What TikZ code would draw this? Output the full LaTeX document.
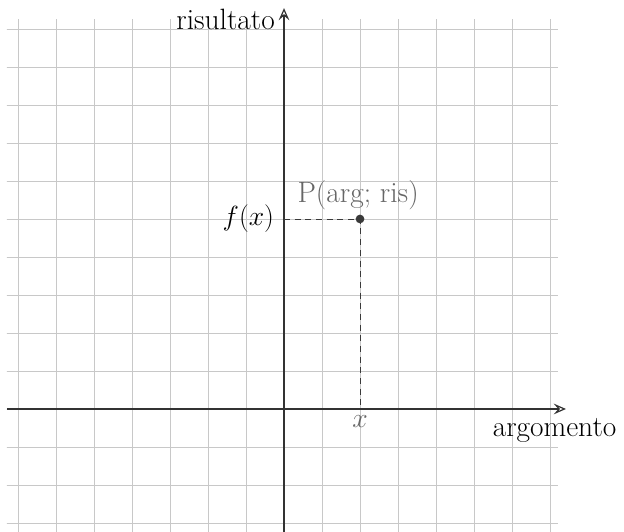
\documentclass[tikz,border=0pt]{standalone}
\usetikzlibrary{arrows.meta}
\definecolor{gridc}{HTML}{C8C8C8}
\definecolor{axisc}{HTML}{333333}
\definecolor{dashc}{HTML}{3A3A3A}
\definecolor{labc}{HTML}{666666}
\tikzset{
  gridline/.style={draw=gridc, line width=0.6pt},
  axisline/.style={draw=axisc, line width=0.9pt, -{Stealth[open, length=3.2mm, width=2.8mm, inset=1.2mm]}},
  guide/.style={draw=dashc, line width=0.7pt, dash pattern=on 4.5pt off 3.5pt},
  dot/.style={circle, fill=dashc, inner sep=0pt, minimum size=2.3mm},
  lab/.style={font=\fontsize{22}{26}\selectfont, inner sep=1pt},
}
\begin{document}
\begin{tikzpicture}
\useasboundingbox (-7.474,-3.211) rectangle (8.947,10.763);
% grid
\begin{scope}
  \clip (-7.29,-3.3) rectangle (7.21,10.24);
  \foreach \i in {-7,...,7} \draw[gridline] (\i,-3.5) -- (\i,10.5);
  \foreach \j in {-3,...,10} \draw[gridline] (-7.5,\j) -- (7.5,\j);
\end{scope}
% axes
\coordinate (xs) at (-7.29,0);
\coordinate (xe) at (7.42,0);
\coordinate (ys) at (0,-3.3);
\coordinate (ye) at (0,10.55);
\draw[axisline] (xs) -- (xe);
\draw[axisline] (ys) -- (ye);
% labels of axes
\node[lab, anchor=east] (ris) at (-0.2,10.25) {risultato};
\node[lab, anchor=north] (arg) at (7.12,-0.2) {argomento};
% point
\node[dot] (P) at (2,5) {};
\coordinate (Py) at (0,5);
\coordinate (Px) at (2,0);
\draw[guide] (Py) -- (P.center) -- (Px);
\node[lab, anchor=east] (fx) at (-0.22,5) {$f(x)$};
\node[lab, text=labc, anchor=north] (xl) at (2,-0.12) {$x$};
\node[lab, text=labc, anchor=south] (Pl) at (1.95,5.2) {P(arg; ris)};
\end{tikzpicture}
\end{document}
